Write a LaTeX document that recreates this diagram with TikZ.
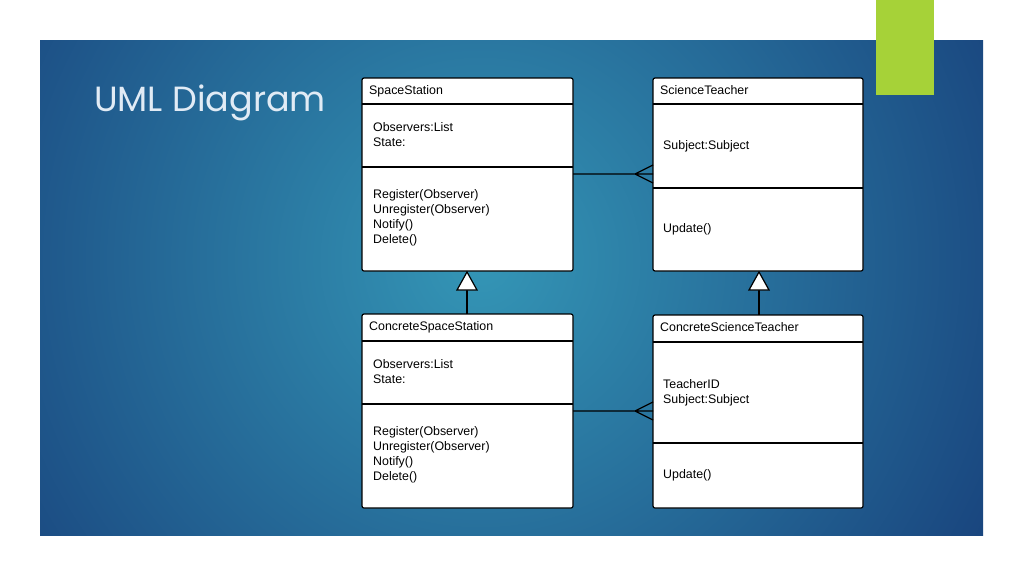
\documentclass[tikz,border=0pt]{standalone}
\usepackage{fontspec}
\setmainfont{Liberation Sans}
\newfontfamily\titlefont{Poppins}
\definecolor{bgin}{RGB}{52,150,182}
\definecolor{bgout}{RGB}{22,60,120}
\definecolor{green1}{RGB}{166,210,56}
\definecolor{titlec}{RGB}{225,235,245}
\tikzset{cls/.style={draw=black,line width=1.2pt,fill=white,rounded corners=2pt},
 sep/.style={line width=1.2pt},
 conn/.style={line width=1.2pt},
 txt/.style={anchor=north west,font=\fontsize{12.4}{15.2}\selectfont,align=left,inner sep=0pt}}
\begin{document}
\begin{tikzpicture}[x=1pt,y=-1pt]
\useasboundingbox (0,0) rectangle (1024,576);
\fill[white] (0,0) rectangle (1024,576);
\begin{scope}
\clip (40,40) rectangle (983,535);
\shade[inner color=bgin,outer color=bgout] (480,260) circle (640);
\end{scope}
\fill[green1] (876,0) rectangle (934,95);
\node[anchor=base west,font=\titlefont\fontsize{35}{38}\selectfont,text=titlec,inner sep=0pt] (title) at (94,111) {UML Diagram};
% boxes
\draw[cls] (362,78) rectangle (573,271);
\draw[sep] (362,104) -- (573,104) (362,167) -- (573,167);
\draw[cls] (653,78) rectangle (863,271);
\draw[sep] (653,104) -- (863,104) (653,188) -- (863,188);
\draw[cls] (362,314) rectangle (573,508);
\draw[sep] (362,341) -- (573,341) (362,404) -- (573,404);
\draw[cls] (653,315) rectangle (863,508);
\draw[sep] (653,342) -- (863,342) (653,443) -- (863,443);
% texts
\node[txt] (a1) at (369,85) {SpaceStation};
\node[txt] (a2) at (373,122) {Observers:List\\State:};
\node[txt] (a3) at (373,189) {Register(Observer)\\Unregister(Observer)\\Notify()\\Delete()};
\node[txt] (b1) at (660,85) {ScienceTeacher};
\node[txt] (b2) at (663,140) {Subject:Subject};
\node[txt] (b3) at (663,223) {Update()};
\node[txt] (c1) at (369,321) {ConcreteSpaceStation};
\node[txt] (c2) at (373,359) {Observers:List\\State:};
\node[txt] (c3) at (373,426) {Register(Observer)\\Unregister(Observer)\\Notify()\\Delete()};
\node[txt] (d1) at (660,322) {ConcreteScienceTeacher};
\node[txt] (d2) at (663,379) {TeacherID\\Subject:Subject};
\node[txt] (d3) at (663,469) {Update()};
% associations
\coordinate (p1) at (573,174); \coordinate (q1) at (653,174);
\draw[conn] (p1) -- (q1) (653,165) -- (635,174) -- (653,183);
\coordinate (p2) at (573,411); \coordinate (q2) at (653,411);
\draw[conn] (p2) -- (q2) (653,402) -- (635,411) -- (653,420);
% generalizations
\draw[conn] (467,314) -- (467,290);
\draw[conn,fill=white,line join=miter] (467,272) -- (477,290) -- (457,290) -- cycle;
\draw[conn] (759,315) -- (759,290);
\draw[conn,fill=white,line join=miter] (759,272) -- (769,290) -- (749,290) -- cycle;
\end{tikzpicture}
\end{document}
